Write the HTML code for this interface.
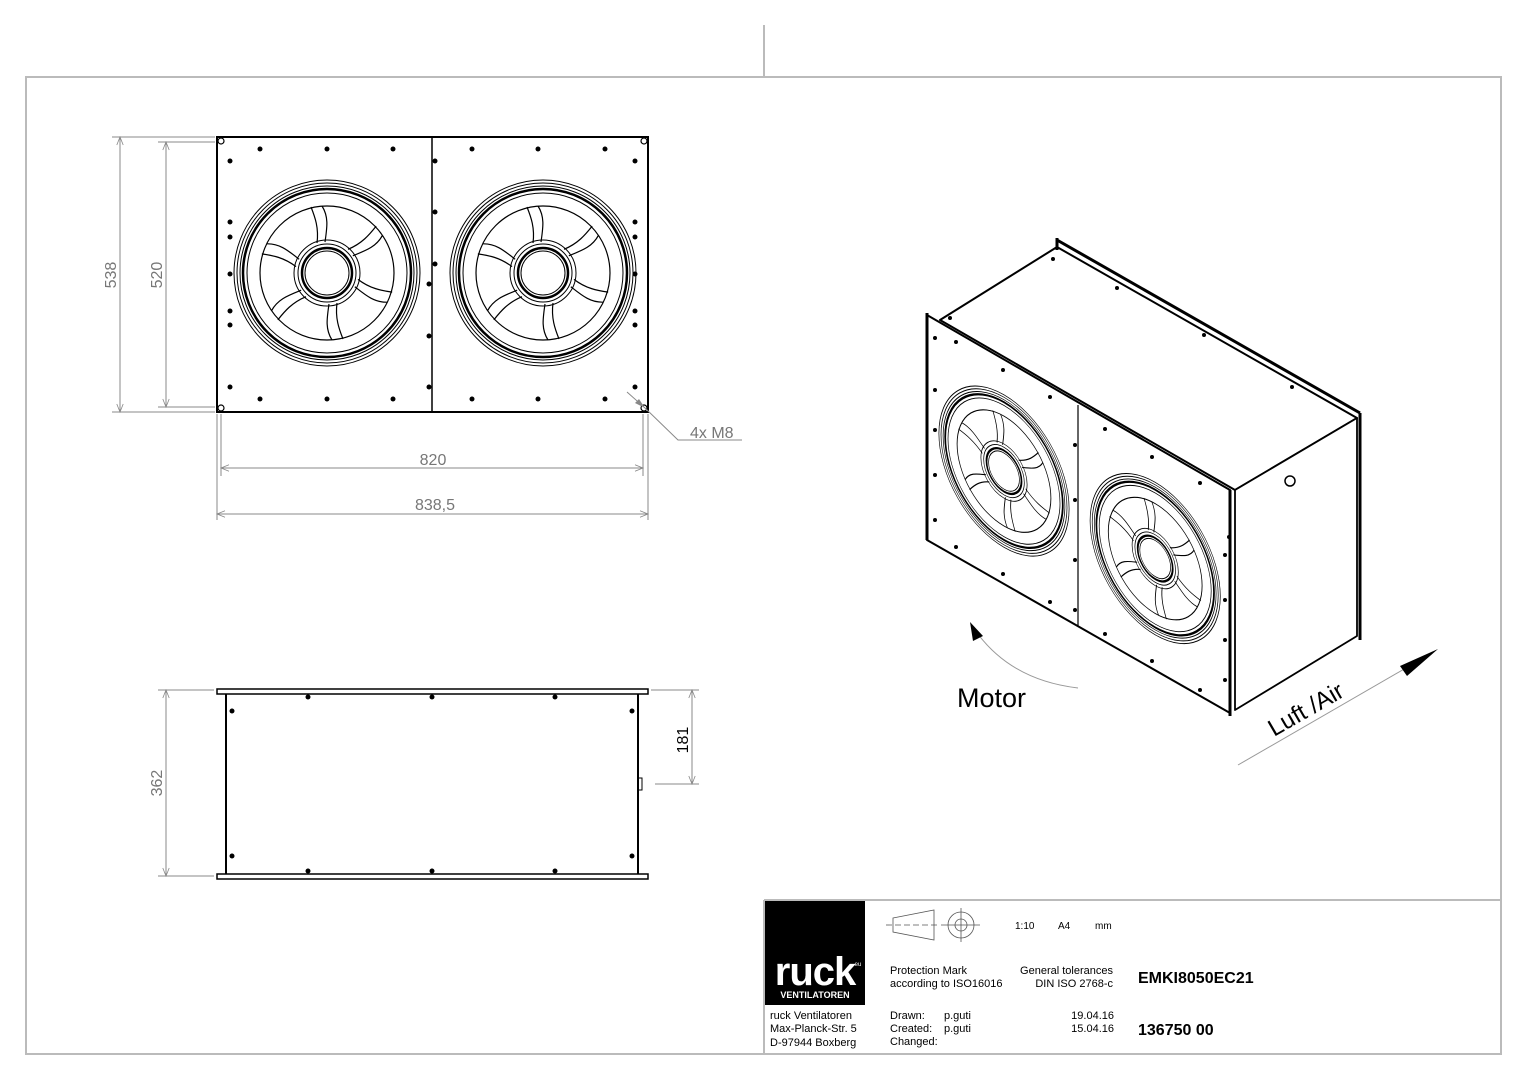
<!DOCTYPE html>
<html><head><meta charset="utf-8"><style>
html,body{margin:0;padding:0;background:#fff}
svg{display:block}
text{font-family:"Liberation Sans",Arial,sans-serif}
</style></head><body>
<svg width="1527" height="1080" viewBox="0 0 1527 1080" xmlns="http://www.w3.org/2000/svg">
<defs>
<marker id="ar" viewBox="0 0 10 10" refX="10" refY="5" markerWidth="14" markerHeight="8" orient="auto-start-reverse" markerUnits="userSpaceOnUse"><path d="M0,1 L10,5 L0,9" fill="none" stroke="#888" stroke-width="1"/></marker>
<g id="fan" fill="none" stroke="#000">
<circle r="93" stroke-width="1"/><circle r="90" stroke-width="1"/><circle r="87" stroke-width="1"/><circle r="84" stroke-width="2.5"/><circle r="80" stroke-width="1"/>
<circle r="67" stroke-width="1.2"/>
<circle r="33" stroke-width="1"/><circle r="29" stroke-width="1"/><circle r="25" stroke-width="2.5"/><circle r="22" stroke-width="1"/>
<g stroke-width="1.2">
<path d="M-10,-30 C-8,-45 -12,-56 -16,-66 M-2,-31 C0,-45 2,-56 -5,-67"/>
<path d="M-10,-30 C-8,-45 -12,-56 -16,-66 M-2,-31 C0,-45 2,-56 -5,-67" transform="rotate(60)"/>
<path d="M-10,-30 C-8,-45 -12,-56 -16,-66 M-2,-31 C0,-45 2,-56 -5,-67" transform="rotate(120)"/>
<path d="M-10,-30 C-8,-45 -12,-56 -16,-66 M-2,-31 C0,-45 2,-56 -5,-67" transform="rotate(180)"/>
<path d="M-10,-30 C-8,-45 -12,-56 -16,-66 M-2,-31 C0,-45 2,-56 -5,-67" transform="rotate(240)"/>
<path d="M-10,-30 C-8,-45 -12,-56 -16,-66 M-2,-31 C0,-45 2,-56 -5,-67" transform="rotate(300)"/>
</g>
</g>
</defs>

<!-- border -->
<rect x="26" y="77" width="1475" height="977" fill="none" stroke="#bbb" stroke-width="2"/>
<line x1="764" y1="25" x2="764" y2="77" stroke="#bbb" stroke-width="2"/>

<!-- front view -->
<g stroke="#000" fill="none">
<rect x="217" y="137" width="431" height="275" stroke-width="2"/>
<line x1="432" y1="137" x2="432" y2="412" stroke-width="1.5"/>
<use href="#fan" x="327" y="273"/>
<use href="#fan" x="543" y="273"/>
<circle cx="221" cy="141" r="3" stroke-width="1.2"/><circle cx="644" cy="141" r="3" stroke-width="1.2"/>
<circle cx="221" cy="408" r="3" stroke-width="1.2"/><circle cx="644" cy="408" r="3" stroke-width="1.2"/>
</g>
<g fill="#000">
<circle cx="260" cy="149" r="2.5"/><circle cx="327" cy="149" r="2.5"/><circle cx="393" cy="149" r="2.5"/>
<circle cx="472" cy="149" r="2.5"/><circle cx="538" cy="149" r="2.5"/><circle cx="605" cy="149" r="2.5"/>
<circle cx="260" cy="399" r="2.5"/><circle cx="327" cy="399" r="2.5"/><circle cx="393" cy="399" r="2.5"/>
<circle cx="472" cy="399" r="2.5"/><circle cx="538" cy="399" r="2.5"/><circle cx="605" cy="399" r="2.5"/>
<circle cx="230" cy="161" r="2.5"/><circle cx="230" cy="222" r="2.5"/><circle cx="230" cy="237" r="2.5"/><circle cx="230" cy="274" r="2.5"/><circle cx="230" cy="311" r="2.5"/><circle cx="230" cy="325" r="2.5"/><circle cx="230" cy="387" r="2.5"/>
<circle cx="635" cy="161" r="2.5"/><circle cx="635" cy="222" r="2.5"/><circle cx="635" cy="237" r="2.5"/><circle cx="635" cy="274" r="2.5"/><circle cx="635" cy="311" r="2.5"/><circle cx="635" cy="325" r="2.5"/><circle cx="635" cy="387" r="2.5"/>
<circle cx="435" cy="161" r="2.5"/><circle cx="435" cy="212" r="2.5"/><circle cx="435" cy="264" r="2.5"/><circle cx="429" cy="284" r="2.5"/><circle cx="429" cy="336" r="2.5"/><circle cx="429" cy="387" r="2.5"/>
</g>
<!-- dims front -->
<g stroke="#888" stroke-width="1" fill="none">
<line x1="112" y1="137" x2="215" y2="137"/><line x1="112" y1="412" x2="215" y2="412"/>
<line x1="158" y1="142" x2="215" y2="142"/><line x1="158" y1="407" x2="215" y2="407"/>
<line x1="120" y1="137" x2="120" y2="412" marker-start="url(#ar)" marker-end="url(#ar)"/>
<line x1="166" y1="142" x2="166" y2="407" marker-start="url(#ar)" marker-end="url(#ar)"/>
<line x1="221" y1="414" x2="221" y2="476"/><line x1="643" y1="414" x2="643" y2="476"/>
<line x1="217" y1="414" x2="217" y2="520"/><line x1="648" y1="414" x2="648" y2="520"/>
<line x1="221" y1="468" x2="643" y2="468" marker-start="url(#ar)" marker-end="url(#ar)"/>
<line x1="217" y1="514" x2="648" y2="514" marker-start="url(#ar)" marker-end="url(#ar)"/>
<polyline points="627,392 645,408 678,440 742,440"/>
</g>
<path d="M645,408 l-6,-9 l-4,4 z" fill="#888"/>
<g fill="#777" font-size="16">
<text x="116" y="275" text-anchor="middle" transform="rotate(-90 116 275)">538</text>
<text x="162" y="275" text-anchor="middle" transform="rotate(-90 162 275)">520</text>
<text x="433" y="465" text-anchor="middle">820</text>
<text x="435" y="510" text-anchor="middle">838,5</text>
<text x="690" y="438">4x M8</text>
</g>

<!-- side view -->
<g stroke="#000" fill="none">
<rect x="217" y="689" width="431" height="5" stroke-width="1.5"/>
<rect x="217" y="874" width="431" height="5" stroke-width="1.5"/>
<line x1="226" y1="694" x2="226" y2="874" stroke-width="2"/>
<line x1="638" y1="694" x2="638" y2="874" stroke-width="2"/>
<rect x="638" y="778" width="4" height="12" stroke-width="1"/>
</g>
<g fill="#000">
<circle cx="308" cy="697" r="2.5"/><circle cx="432" cy="697" r="2.5"/><circle cx="555" cy="697" r="2.5"/>
<circle cx="308" cy="871" r="2.5"/><circle cx="432" cy="871" r="2.5"/><circle cx="555" cy="871" r="2.5"/>
<circle cx="232" cy="711" r="2.5"/><circle cx="632" cy="711" r="2.5"/><circle cx="232" cy="856" r="2.5"/><circle cx="632" cy="856" r="2.5"/>
</g>
<g stroke="#888" stroke-width="1" fill="none">
<line x1="158" y1="690" x2="214" y2="690"/><line x1="158" y1="876" x2="214" y2="876"/>
<line x1="166" y1="690" x2="166" y2="876" marker-start="url(#ar)" marker-end="url(#ar)"/>
<line x1="651" y1="690" x2="699" y2="690"/><line x1="655" y1="784" x2="699" y2="784"/>
<line x1="692" y1="690" x2="692" y2="784" marker-start="url(#ar)" marker-end="url(#ar)"/>
</g>
<g fill="#777" font-size="16">
<text x="162" y="783" text-anchor="middle" transform="rotate(-90 162 783)">362</text>
<text x="688" y="740" text-anchor="middle" transform="rotate(-90 688 740)" fill="#000">181</text>
</g>

<!-- isometric -->
<g stroke="#000" fill="#fff" stroke-linejoin="round">
<polygon points="940,320 1057,247 1357,418 1235,490" stroke-width="2"/>
<polygon points="1235,490 1357,418 1357,636 1235,710" stroke-width="1.8"/>
<polygon points="927,315 1230,490 1230,713 927,540" stroke-width="2"/>
<line x1="1057" y1="238" x2="1057" y2="250" stroke-width="3"/>
<line x1="1057" y1="240" x2="1360" y2="413" stroke-width="3"/>
<line x1="1360" y1="413" x2="1360" y2="640" stroke-width="3"/>
<line x1="927" y1="313" x2="927" y2="540" stroke-width="3"/>
<line x1="1230" y1="490" x2="1230" y2="716" stroke-width="3"/>
<line x1="1078" y1="405" x2="1078" y2="627" stroke-width="1.2"/>
<g transform="translate(927,315) matrix(0.70,0.405,0,0.82,0,0) translate(-217,-137)">
<use href="#fan" x="327" y="273"/>
<use href="#fan" x="543" y="273"/>
</g>
<circle cx="1290" cy="481" r="5" stroke-width="1.5"/>
</g>
<g fill="#000">
<circle cx="1053" cy="259" r="2"/><circle cx="1117" cy="288" r="2"/><circle cx="1204" cy="335" r="2"/><circle cx="1292" cy="387" r="2"/>
<circle cx="950" cy="318" r="2"/><circle cx="1003" cy="370" r="2"/><circle cx="935" cy="338" r="2"/><circle cx="956" cy="342" r="2"/>
<circle cx="1050" cy="397" r="2"/><circle cx="1105" cy="429" r="2"/><circle cx="1152" cy="457" r="2"/><circle cx="1200" cy="483" r="2"/>
<circle cx="1229" cy="537" r="2"/><circle cx="1225" cy="555" r="2"/><circle cx="1225" cy="600" r="2"/><circle cx="1225" cy="640" r="2"/><circle cx="1225" cy="680" r="2"/>
<circle cx="935" cy="390" r="2"/><circle cx="935" cy="430" r="2"/><circle cx="935" cy="475" r="2"/><circle cx="935" cy="520" r="2"/>
<circle cx="956" cy="547" r="2"/><circle cx="1003" cy="574" r="2"/><circle cx="1050" cy="602" r="2"/><circle cx="1105" cy="634" r="2"/><circle cx="1152" cy="661" r="2"/><circle cx="1200" cy="690" r="2"/>
<circle cx="1075" cy="445" r="2"/><circle cx="1075" cy="500" r="2"/><circle cx="1075" cy="560" r="2"/><circle cx="1075" cy="610" r="2"/>
</g>
<!-- motor arrow -->
<path d="M1078,688 Q1010,680 975,630" fill="none" stroke="#999" stroke-width="1"/>
<path d="M970,622 L983,636 L973,641 Z" fill="#000"/>
<text x="957" y="707" font-size="27" fill="#000">Motor</text>
<!-- air arrow -->
<line x1="1238" y1="765" x2="1425" y2="657" stroke="#999" stroke-width="1"/>
<path d="M1438,649 L1400,666 L1407,676 Z" fill="#000"/>
<text x="0" y="0" font-size="24" fill="#000" transform="translate(1274,737) rotate(-30)">Luft /Air</text>

<!-- title block -->
<g stroke="#bbb" stroke-width="2" fill="none">
<line x1="764" y1="900" x2="1501" y2="900"/>
<line x1="764" y1="900" x2="764" y2="1054"/>
</g>
<rect x="765" y="901" width="100" height="104" fill="#000"/>
<text x="815" y="985" font-size="40" font-weight="bold" fill="#fff" text-anchor="middle" letter-spacing="-1">ruck</text>
<text x="853" y="966" font-size="6" fill="#fff">.eu</text>
<text x="815" y="998" font-size="9" font-weight="bold" fill="#fff" text-anchor="middle">VENTILATOREN</text>
<g font-size="11" fill="#000">
<text x="770" y="1019">ruck Ventilatoren</text>
<text x="770" y="1032">Max-Planck-Str. 5</text>
<text x="770" y="1046">D-97944 Boxberg</text>
<text x="890" y="974">Protection Mark</text>
<text x="890" y="987">according to ISO16016</text>
<text x="1113" y="974" text-anchor="end">General tolerances</text>
<text x="1113" y="987" text-anchor="end">DIN ISO 2768-c</text>
<text x="890" y="1019">Drawn:</text><text x="944" y="1019">p.guti</text><text x="1114" y="1019" text-anchor="end">19.04.16</text>
<text x="890" y="1032">Created:</text><text x="944" y="1032">p.guti</text><text x="1114" y="1032" text-anchor="end">15.04.16</text>
<text x="890" y="1045">Changed:</text>
<text x="1015" y="929" font-size="10">1:10</text><text x="1058" y="929" font-size="10">A4</text><text x="1095" y="929" font-size="10">mm</text>
</g>
<text x="1138" y="983" font-size="16" font-weight="bold">EMKI8050EC21</text>
<text x="1138" y="1035" font-size="16" font-weight="bold">136750  00</text>
<g stroke="#555" stroke-width="0.8" fill="none">
<polygon points="893,918 934,910 934,940 893,932"/>
<line x1="886" y1="925" x2="940" y2="925" stroke-dasharray="6,3"/>
<circle cx="961" cy="925" r="13"/><circle cx="961" cy="925" r="6"/>
<line x1="941" y1="925" x2="980" y2="925"/><line x1="961" y1="908" x2="961" y2="942"/>
</g>
</svg>
</body></html>
